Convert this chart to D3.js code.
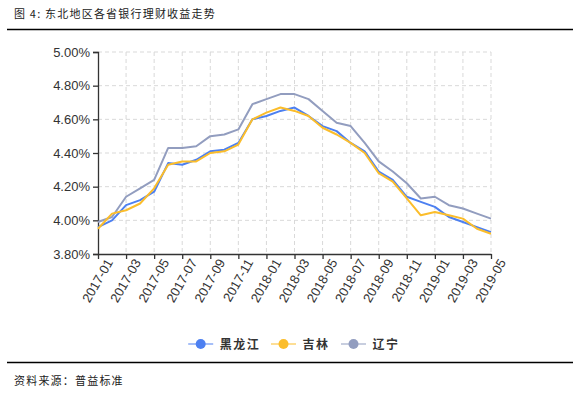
<!DOCTYPE html>
<html>
<head>
<meta charset="utf-8">
<script src="https://cdn.jsdelivr.net/npm/d3@7"></script>
<style>
  body { margin: 0; background: #fff; }
  svg { font-family: "Open Sans", "Noto Sans", sans-serif; }
  .cjk { font-family: "Noto Sans CJK SC", sans-serif; }
</style>
</head>
<body>
<div id="chart"></div>
<script>
var months = ["2017-01","2017-02","2017-03","2017-04","2017-05","2017-06","2017-07","2017-08","2017-09","2017-10","2017-11","2017-12",
              "2018-01","2018-02","2018-03","2018-04","2018-05","2018-06","2018-07","2018-08","2018-09","2018-10","2018-11","2018-12",
              "2019-01","2019-02","2019-03","2019-04","2019-05"];
var heilongjiang = [3.96,4.00,4.09,4.12,4.17,4.34,4.33,4.36,4.41,4.42,4.46,4.60,4.62,4.65,4.67,4.62,4.56,4.53,4.46,4.41,4.29,4.24,4.14,4.11,4.08,4.02,3.99,3.96,3.93];
var jilin        = [3.95,4.04,4.06,4.10,4.19,4.33,4.35,4.35,4.40,4.41,4.45,4.60,4.64,4.67,4.65,4.62,4.55,4.51,4.46,4.40,4.28,4.23,4.13,4.03,4.05,4.03,4.01,3.95,3.92];
var liaoning     = [3.99,4.02,4.14,4.19,4.24,4.43,4.43,4.44,4.50,4.51,4.54,4.69,4.72,4.75,4.75,4.72,4.65,4.58,4.56,4.46,4.35,4.29,4.22,4.13,4.14,4.09,4.07,4.04,4.01];
var yTicks = [3.8,4.0,4.2,4.4,4.6,4.8,5.0];
var xTickLabels = months.filter(function(d, i){ return i % 2 === 0; });

var seriesNames = ["黑龙江","吉林","辽宁"];
var seriesValues = [heilongjiang, jilin, liaoning];
var colors = ["#4d80f1","#fbbd2b","#929dbf"];

var W = 580, H = 394;
var margin = {top: 52, left: 98, right: 89, bottom: 140};

var svg = d3.select("#chart").append("svg")
    .attr("width", W).attr("height", H);

// title + rules
svg.append("text").attr("class", "cjk")
    .attr("x", 14).attr("y", 18)
    .attr("font-size", 11).attr("letter-spacing", 1.2)
    .attr("fill", "#222")
    .text("图 4:  东北地区各省银行理财收益走势");
svg.append("line").attr("x1", 7).attr("x2", 573).attr("y1", 29.5).attr("y2", 29.5)
    .attr("stroke", "#000").attr("stroke-width", 1.3);
svg.append("line").attr("x1", 7).attr("x2", 573).attr("y1", 362.5).attr("y2", 362.5)
    .attr("stroke", "#000").attr("stroke-width", 1.3);
svg.append("text").attr("class", "cjk")
    .attr("x", 14).attr("y", 385)
    .attr("font-size", 11).attr("letter-spacing", 1.2)
    .attr("fill", "#222")
    .text("资料来源：普益标准");

var x = d3.scalePoint()
    .domain(months)
    .range([margin.left, W - margin.right]);

var y = d3.scaleLinear()
    .domain([3.8, 5.0])
    .range([254, 52]);

// grid
var grid = svg.append("g");
grid.selectAll("vline")
    .data(xTickLabels.slice(1)).enter()
    .append("line")
    .attr("x1", function(d){ return x(d); }).attr("x2", function(d){ return x(d); })
    .attr("y1", y(5.0)).attr("y2", y(3.8))
    .attr("stroke", "#d9d9d9").attr("stroke-dasharray", "4,3");
grid.selectAll("hline")
    .data(yTicks.slice(1)).enter()
    .append("line")
    .attr("x1", x.range()[0]).attr("x2", x.range()[1])
    .attr("y1", function(d){ return y(d); }).attr("y2", function(d){ return y(d); })
    .attr("stroke", "#d9d9d9").attr("stroke-dasharray", "4,3");

// axes
var yAxis = d3.axisLeft(y)
    .tickValues(yTicks)
    .tickSize(5)
    .tickPadding(3)
    .tickFormat(function(d){ return d.toFixed(2) + "%"; });
var gy = svg.append("g")
    .attr("transform", "translate(" + margin.left + ",0)")
    .call(yAxis);

var xAxis = d3.axisBottom(x)
    .tickValues(xTickLabels)
    .tickSize(5)
    .tickSizeOuter(0);
var gx = svg.append("g")
    .attr("transform", "translate(0," + y(3.8) + ")")
    .call(xAxis);
gx.selectAll("text")
    .attr("text-anchor", "end")
    .attr("transform", "translate(4,2) rotate(-60)")
    .attr("dx", 0).attr("dy", "0.35em").attr("y", 8);

[gx, gy].forEach(function(g){
    g.select(".domain").attr("stroke", "#333").attr("stroke-width", 1.3);
    g.selectAll(".tick line").attr("stroke", "#333").attr("stroke-width", 1.3);
    g.selectAll("text").attr("fill", "#333").attr("font-size", 13);
});

// lines
var line = d3.line()
    .x(function(d, i){ return x(months[i]); })
    .y(function(d){ return y(d); });

[2, 0, 1].forEach(function(k){
    svg.append("path")
        .datum(seriesValues[k])
        .attr("fill", "none")
        .attr("stroke", colors[k])
        .attr("stroke-width", 2)
        .attr("stroke-linejoin", "round")
        .attr("d", line);
});

// legend
var legendX = [200.7, 283.5, 353.5];
var legend = svg.append("g");
seriesNames.forEach(function(name, k){
    var g = legend.append("g").attr("transform", "translate(" + legendX[k] + ",344)");
    g.append("line").attr("x1", -12.5).attr("x2", 12.5)
        .attr("stroke", colors[k]).attr("stroke-opacity", 0.5).attr("stroke-width", 2);
    g.append("circle").attr("r", 5).attr("fill", colors[k]);
    g.append("text").attr("class", "cjk")
        .attr("x", 19).attr("y", 4.5)
        .attr("font-size", 12).attr("font-weight", "bold").attr("letter-spacing", 1.5)
        .attr("fill", "#333")
        .text(name);
});
</script>
</body>
</html>
